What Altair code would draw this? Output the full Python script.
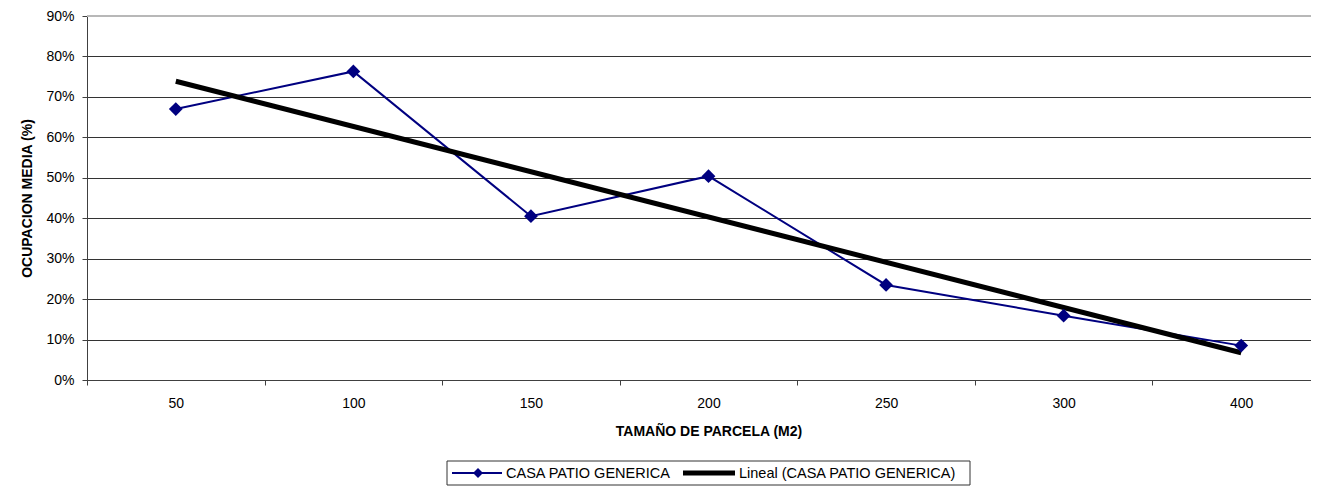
import json
import altair as alt
import pandas as pd

# ---- data ----
categories = ["50", "100", "150", "200", "250", "300", "400"]
ocupacion = [0.670, 0.763, 0.405, 0.504, 0.235, 0.159, 0.085]
y_ticks = [0.0, 0.1, 0.2, 0.3, 0.4, 0.5, 0.6, 0.7, 0.8, 0.9]
series_name = "CASA PATIO GENERICA"
trend_name = "Lineal (CASA PATIO GENERICA)"
x_title = "TAMAÑO DE PARCELA (M2)"
y_title = "OCUPACION MEDIA (%)"

df = pd.DataFrame({"cat": categories, "idx": list(range(len(categories))), "value": ocupacion})
top_df = pd.DataFrame({"v": [max(y_ticks)]})
one = pd.DataFrame({"k": [0]})

FONT = "Liberation Sans"
NAVY = "#000080"
AXC = "#404040"

PLOT_W = 1224        # visible plot width (page is 1319 wide)
BAND_RANGE = 1243    # full category range; last part runs past the window edge

x_enc = alt.X(
    "cat:N",
    sort=categories,
    scale=alt.Scale(type="band", domain=categories, paddingInner=0, paddingOuter=0,
                    range=[0, BAND_RANGE]),
    axis=alt.Axis(
        title=x_title, tickBand="extent", labelAngle=0, tickSize=5, labelPadding=11,
        domainColor=AXC, tickColor=AXC, grid=False, titlePadding=14,
        titleFontWeight="bold", titleX=621.5,
    ),
)
y_enc = alt.Y(
    "value:Q",
    scale=alt.Scale(domain=[0, 0.9], nice=False, zero=True),
    axis=alt.Axis(
        values=y_ticks, format=".0%", title=y_title, tickSize=5, labelPadding=8,
        domainColor=AXC, tickColor=AXC, grid=True, gridColor="#333333", gridWidth=1,
        titlePadding=11, titleFontWeight="bold",
    ),
)

base = alt.Chart(df)

top_rule = alt.Chart(top_df).mark_rule(color="#b8b8b8", strokeWidth=2).encode(
    y=alt.Y("v:Q", scale=alt.Scale(domain=[0, 0.9], nice=False))
)

line = base.mark_line(color=NAVY, strokeWidth=2).encode(x=x_enc, y=y_enc)
pts = base.mark_point(shape="diamond", filled=True, size=190, color=NAVY, opacity=1).encode(
    x=x_enc, y=y_enc
)

trend = (
    base.transform_regression("idx", "value", extent=[0, len(categories) - 1])
    .transform_filter(f"datum.idx == 0 || datum.idx == {len(categories) - 1}")
    .transform_calculate(cat=f"{json.dumps(categories)}[round(datum.idx)]")
    .mark_line(color="black", strokeWidth=5)
    .encode(x=x_enc, y=y_enc)
)

# ---- legend (drawn below the plot) ----
LY = 457
lg = alt.Chart(one)
leg_box = lg.mark_rect(fill="white", stroke="#333333", strokeWidth=1).encode(
    x=alt.value(360), x2=alt.value(883), y=alt.value(LY - 12), y2=alt.value(LY + 12)
)
leg_l1 = lg.mark_rule(color=NAVY, strokeWidth=2).encode(
    x=alt.value(365), x2=alt.value(415), y=alt.value(LY)
)
leg_p1 = lg.mark_point(shape="diamond", filled=True, size=100, color=NAVY, opacity=1).encode(
    x=alt.value(391), y=alt.value(LY)
)
leg_t1 = lg.mark_text(align="left", baseline="middle", font=FONT, fontSize=14.5, color="black").encode(
    x=alt.value(419), y=alt.value(LY + 1), text=alt.value(series_name)
)
leg_l2 = lg.mark_rule(color="black", strokeWidth=5).encode(
    x=alt.value(596), x2=alt.value(648), y=alt.value(LY)
)
leg_t2 = lg.mark_text(align="left", baseline="middle", font=FONT, fontSize=14.5, color="black").encode(
    x=alt.value(652), y=alt.value(LY + 1), text=alt.value(trend_name)
)

chart = (
    alt.layer(top_rule, line, trend, pts, leg_box, leg_l1, leg_p1, leg_t1, leg_l2, leg_t2)
    .properties(
        width=PLOT_W,
        height=364,
        autosize=alt.AutoSizeParams(type="none"),
        padding={"left": 79, "top": 8, "right": 0, "bottom": 107},
        background="white",
    )
    .configure_axis(
        labelFont=FONT, titleFont=FONT, labelFontSize=14, titleFontSize=14,
        labelColor="black", titleColor="black",
    )
    .configure_view(stroke=None)
)

chart.save("out.html", embed_options={"renderer": "svg", "actions": False})
